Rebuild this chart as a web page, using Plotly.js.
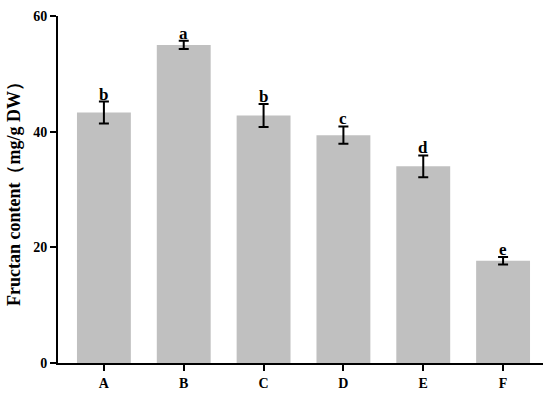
<!DOCTYPE html>
<html>
<head>
<meta charset="utf-8">
<script src="https://cdn.plot.ly/plotly-3.0.1.min.js"></script>
<style>
  html, body { margin: 0; padding: 0; background: #fff; }
  #plot { width: 550px; height: 398px; }
</style>
</head>
<body>
<div id="plot"></div>
<script>
// Data
var groups = ["A", "B", "C", "D", "E", "F"];
var fructan = [43.3, 55.0, 42.8, 39.4, 34.0, 17.7];
var sd = [1.9, 0.7, 2.0, 1.5, 1.9, 0.65];
var letters = ["b", "a", "b", "c", "d", "e"];

var serif = "Liberation Serif, Times New Roman, serif";

var trace1 = {
    x: groups,
    y: fructan,
    type: "bar",
    width: 0.675,
    marker: { color: "#c0c0c0" },
    error_y: {
        type: "data",
        array: sd,
        visible: true,
        color: "#000",
        thickness: 2,
        width: 5
    },
    hoverinfo: "none"
};

// significance letters sit just above each error bar
var notes = groups.map(function (g, i) {
    return {
        x: g,
        y: fructan[i] + sd[i],
        text: letters[i],
        showarrow: false,
        yanchor: "bottom",
        yshift: -4,
        font: { family: serif, size: 17, color: "#000", weight: "bold" }
    };
});

var layout = {
    width: 550,
    height: 398,
    margin: { l: 58, r: 7, t: 16, b: 35 },
    paper_bgcolor: "#fff",
    plot_bgcolor: "#fff",
    showlegend: false,
    xaxis: {
        range: [-0.575, 5.5],
        showline: true,
        linecolor: "#000",
        linewidth: 2,
        ticks: "outside",
        ticklen: 6,
        tickwidth: 2,
        tickcolor: "#000",
        showgrid: false,
        zeroline: false,
        tickfont: { family: serif, size: 14, color: "#000", weight: "bold" }
    },
    yaxis: {
        range: [0, 60],
        tickvals: [0, 20, 40, 60],
        showline: true,
        linecolor: "#000",
        linewidth: 2,
        ticks: "outside",
        ticklen: 6,
        tickwidth: 2,
        tickcolor: "#000",
        showgrid: false,
        zeroline: false,
        tickfont: { family: serif, size: 14, color: "#000", weight: "bold" },
        title: {
            text: "Fructan content（mg/g DW）",
            font: { family: serif, size: 18, color: "#000", weight: "bold" },
            standoff: 8
        }
    },
    annotations: notes
};

Plotly.newPlot("plot", [trace1], layout, { displayModeBar: false, staticPlot: true });
</script>
</body>
</html>
